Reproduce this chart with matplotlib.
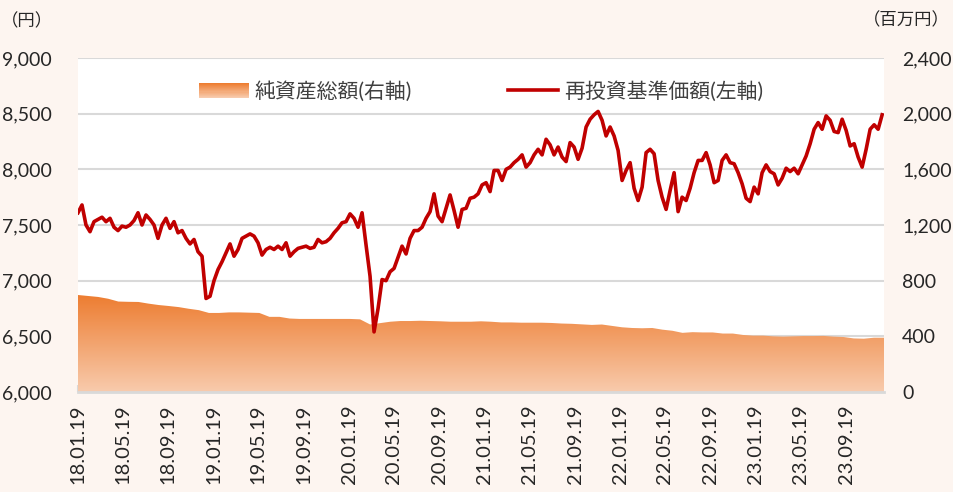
import numpy as np
import pandas as pd
import matplotlib
matplotlib.use('Agg')
import matplotlib.pyplot as plt
import matplotlib.dates as mdates
from matplotlib.colors import LinearSegmentedColormap
from matplotlib.legend_handler import HandlerBase
from matplotlib.patches import Rectangle
from matplotlib.lines import Line2D
from matplotlib.ticker import FuncFormatter

plt.rcParams['font.family'] = ['Lato', 'Noto Sans CJK JP', 'DejaVu Sans']

# 再投資基準価額 (円, 左軸), evenly spaced in time
nav_values = [
    7610, 7680, 7500, 7440, 7530, 7550, 7570, 7530, 7560, 7480,
    7450, 7490, 7480, 7500, 7540, 7610, 7500, 7590, 7550, 7500,
    7380, 7500, 7560, 7470, 7530, 7430, 7450, 7380, 7330, 7370,
    7260, 7220, 6840, 6860, 7000, 7100, 7170, 7250, 7330, 7220,
    7280, 7380, 7400, 7420, 7400, 7340, 7230, 7280, 7300, 7280,
    7310, 7280, 7340, 7220, 7260, 7290, 7300, 7310, 7290, 7300,
    7370, 7340, 7350, 7380, 7430, 7470, 7520, 7530, 7600, 7560,
    7480, 7610, 7320, 7040, 6540, 6750, 7010, 7000, 7080, 7110,
    7210, 7310, 7240, 7380, 7450, 7450, 7480, 7560, 7620, 7780,
    7580, 7530, 7650, 7770, 7630, 7480, 7640, 7650, 7740, 7750,
    7780, 7860, 7880, 7800, 7990, 7990, 7900, 8000, 8020, 8060,
    8090, 8130, 8020, 8060, 8130, 8180, 8130, 8270, 8220, 8130,
    8200, 8110, 8070, 8240, 8200, 8090, 8190, 8380, 8450, 8490,
    8520, 8440, 8300, 8380, 8300, 8170, 7900, 7990, 8060, 7830,
    7720, 7840, 8150, 8180, 8140, 7900, 7750, 7640, 7810, 7970,
    7620, 7750, 7720, 7830, 7970, 8080, 8080, 8150, 8040, 7880,
    7900, 8080, 8130, 8060, 8050, 7970, 7870, 7740, 7710, 7840,
    7780, 7970, 8040, 7980, 7960, 7860, 7920, 8010, 7980, 8010,
    7960, 8040, 8120, 8230, 8360, 8420, 8360, 8480, 8440, 8340,
    8330, 8450, 8350, 8210, 8230, 8110, 8020, 8180, 8360, 8400,
    8360, 8490,
]
nav_dates = pd.date_range('2018-01-19', '2023-12-25', periods=len(nav_values))

# 純資産総額 (百万円, 右軸)
aum_values = [
    697, 690, 683, 670, 650, 648, 647, 635, 625, 618,
    610, 598, 588, 568, 568, 572, 572, 570, 568, 540,
    540, 528, 525, 525, 525, 525, 525, 525, 522, 485,
    495, 505, 510, 510, 512, 510, 508, 505, 505, 505,
    508, 505, 500, 500, 498, 498, 498, 496, 492, 490,
    486, 482, 485, 475, 465, 460, 458, 460, 448, 440,
    425, 430, 428, 428, 420, 420, 410, 405, 405, 400,
    398, 400, 402, 402, 403, 398, 395, 385, 383, 390,
    390,
]
aum_dates = pd.date_range('2018-01-19', '2023-12-30', periods=len(aum_values))

tick_labels = ['18.01.19', '18.05.19', '18.09.19', '19.01.19', '19.05.19', '19.09.19',
               '20.01.19', '20.05.19', '20.09.19', '21.01.19', '21.05.19', '21.09.19',
               '22.01.19', '22.05.19', '22.09.19', '23.01.19', '23.05.19', '23.09.19']
tick_dates = pd.to_datetime(tick_labels, format='%y.%m.%d')

bg = '#FDF5F0'
red = '#C00000'
grid_c = '#D9D9D9'
txt_c = '#262626'
grad = LinearSegmentedColormap.from_list('aum', ['#F8CBAD', '#ED7D31'])

fig = plt.figure(figsize=(9.54, 4.92), dpi=100, facecolor=bg)
ax = fig.add_axes([78/954, 100/492, 806/954, 334/492])
ax.set_facecolor('white')
ax2 = ax.twinx()
ax.yaxis.tick_right()
ax2.yaxis.tick_left()

# area with vertical gradient (right axis)
xs = mdates.date2num(aum_dates)
poly = ax.fill_between(xs, 0, aum_values, facecolor='none', edgecolor='none')
g = np.linspace(0, 1, 256).reshape(-1, 1)
im = ax.imshow(g, extent=[xs[0], xs[-1], 0, max(aum_values)], origin='lower',
               aspect='auto', cmap=grad, zorder=2)
im.set_clip_path(poly.get_paths()[0], transform=ax.transData)

ax.set_xlim(xs[0], xs[-1])
ax.set_ylim(0, 2400)
ax.set_yticks(np.arange(0, 2401, 400))
ax.yaxis.set_major_formatter(FuncFormatter(lambda v, p: f'{v:,.0f}'))
ax.grid(axis='y', color=grid_c, lw=1.5)
ax.set_axisbelow(True)

# 基準価額 line (left axis)
ax2.plot(mdates.date2num(nav_dates), nav_values, color=red, lw=2.6, solid_joinstyle='round')
ax2.set_ylim(6000, 9000)
ax2.set_yticks(np.arange(6000, 9001, 500))
ax2.yaxis.set_major_formatter(FuncFormatter(lambda v, p: f'{v:,.0f}'))
ax2.set_xlim(xs[0], xs[-1])

ax.set_xticks(mdates.date2num(tick_dates))
ax.set_xticklabels(tick_labels)
ax.tick_params(axis='x', direction='in', length=5, width=1.5, color=grid_c,
               labelrotation=90, pad=9, labelsize=14.5, labelcolor=txt_c)
ax.tick_params(axis='y', length=0, pad=13, labelsize=14, labelcolor=txt_c)
ax2.tick_params(axis='y', length=0, pad=19, labelsize=14, labelcolor=txt_c)

for a in (ax, ax2):
    for s in a.spines.values():
        s.set_visible(False)
ax.spines['bottom'].set_visible(True)
ax.spines['bottom'].set_color(grid_c)
ax.spines['bottom'].set_linewidth(2)


class GradHandler(HandlerBase):
    def create_artists(self, legend, orig, xd, yd, w, h, fs, trans):
        arts = []
        n = 14
        for k in range(n):
            r = Rectangle((xd, yd + h * k / n), w, h / n + 0.2,
                          facecolor=grad(k / (n - 1)), edgecolor='none', transform=trans)
            arts.append(r)
        return arts


leg = ax2.legend(handles=[Rectangle((0, 0), 1, 1), Line2D([], [], color=red, lw=2.6)],
                 labels=['純資産総額(右軸)', '再投資基準価額(左軸)'],
                 handler_map={Rectangle: GradHandler()},
                 ncol=2, frameon=False, loc='center', bbox_to_anchor=(0.5, 0.9),
                 handlelength=2.4, handletextpad=0.3, columnspacing=4.6, fontsize=15)
for t in leg.get_texts():
    t.set_color('#404040')

fig.text(27/954, 1 - 21/492, '（円）', ha='center', va='center', fontsize=12.5, color=txt_c)
fig.text(950/954, 1 - 20/492, '（百万円）', ha='right', va='center', fontsize=12.5, color=txt_c)

fig.savefig('out.png', dpi=100, facecolor=bg)
